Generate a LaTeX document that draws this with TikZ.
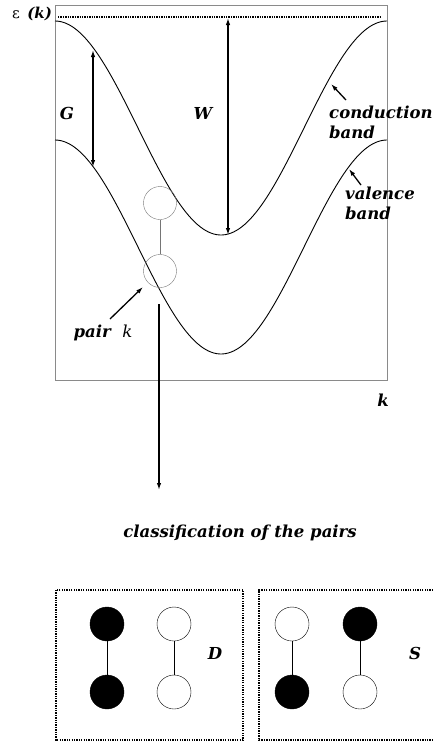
\documentclass[tikz,border=0pt]{standalone}
\usepackage{fontspec}
\setmainfont{DejaVu Serif}
\usetikzlibrary{arrows.meta}
\definecolor{framegray}{HTML}{8A8A8A}

\begin{document}
\begin{tikzpicture}[x=1pt, y=-1pt,
          lbl/.style={font=\fontsize{16.5}{20}\selectfont\bfseries\itshape, inner sep=0pt, align=left},
          pairc/.style={circle, draw=framegray!85!black, thin, minimum size=33pt, inner sep=0pt},
          spin/.style={circle, draw=black, thin, fill=white, minimum size=34pt, inner sep=0pt},
          spinf/.style={spin, fill=black},
          dots/.style={line width=1.3pt, dash pattern=on 1.3pt off 1.1pt},
          arr/.style={-{Latex[length=7pt,width=4.5pt]}, line width=1.3pt},
          darr/.style={{Latex[length=7pt,width=4.5pt]}-{Latex[length=7pt,width=4.5pt]}, line width=1.3pt}]
        \useasboundingbox (0,0) rectangle (432,745);
        % frame of the band plot
        \draw[framegray, line width=0.8pt] (55,5) rectangle (387,380);
        \draw[dots] (58,17) -- (380,17);
        \draw[line width=0.9pt, domain=55:387, samples=120, smooth]
          plot (\x, {21+107*(1-cos((\x-55)/332*360))});
        \draw[line width=0.9pt, domain=55:387, samples=120, smooth]
          plot (\x, {140+107*(1-cos((\x-55)/332*360))});
        \coordinate (gtop) at (93,50);
        \coordinate (gbot) at (93,167);
        \coordinate (wtop) at (228,18);
        \coordinate (wbot) at (228,235);
        \draw[darr] (gtop) -- (gbot);
        \draw[darr] (wtop) -- (wbot);
        \node[lbl] (glbl) at (67,113) {G};
        \node[lbl] (wlbl) at (203,113) {W};
        \node[lbl, font=\fontsize{15}{20}\selectfont] (eps) at (32,14) {ε\enspace\textbf{\textit{(k)}}};
        \node[lbl] (kax) at (383,400) {k};
        % band labels
        \node[lbl, anchor=north west] (cond) at (329,106) {conduction\\band};
        \node[lbl, anchor=north west] (val) at (345,187) {valence\\band};
        \coordinate (condtail) at (346,100);
        \coordinate (condtip) at (331,84);
        \coordinate (valtail) at (361,185);
        \coordinate (valtip) at (349,169);
        \draw[arr] (condtail) -- (condtip);
        \draw[arr] (valtail) -- (valtip);
        % the pair
        \node[pairc] (up) at (160,203) {};
        \node[pairc] (dn) at (160,271) {};
        \draw[framegray!85!black, thin] (up) -- (dn);
        \node[lbl] (pair) at (103,333) {pair~~\mdseries k};
        \coordinate (ptail) at (110,319);
        \coordinate (ptip) at (143,287);
        \draw[arr] (ptail) -- (ptip);
        \coordinate (dtop) at (159,304);
        \coordinate (dbot) at (159,490);
        \draw[arr] (dtop) -- (dbot);
        \node[lbl] (cls) at (240,533) {classification of the pairs};
        % classes D and S
        \draw[dots] (56,590) rectangle (243,740);
        \draw[dots] (433,590) -- (259,590) -- (259,740) -- (433,740);
        \node[spinf] (d1u) at (107,624) {};
        \node[spinf] (d1d) at (107,692) {};
        \node[spin] (d2u) at (174,624) {};
        \node[spin] (d2d) at (174,692) {};
        \node[spin] (s1u) at (292,624) {};
        \node[spinf] (s1d) at (292,692) {};
        \node[spinf] (s2u) at (360,624) {};
        \node[spin] (s2d) at (360,692) {};
        \foreach \p in {d1,d2,s1,s2} {\draw[thin] (\p u) -- (\p d);}
        \node[lbl] (dlbl) at (215,653) {D};
        \node[lbl] (slbl) at (415,653) {S};
      \end{tikzpicture}
\end{document}
